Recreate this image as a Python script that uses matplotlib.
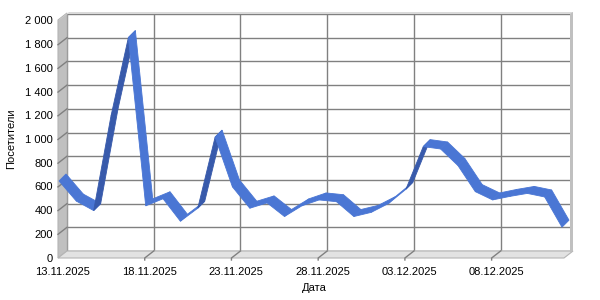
import matplotlib
matplotlib.use('Agg')
import matplotlib.pyplot as plt
import numpy as np
import pandas as pd
from matplotlib.patches import Polygon
from matplotlib.lines import Line2D

plt.rcParams['font.family'] = ['Liberation Sans', 'DejaVu Sans']
plt.rcParams['font.size'] = 8

# ---------------- data ----------------
start_date = '2025-11-13'
visitors = [650, 480, 400, 1200, 1860, 440, 500, 310, 420, 1020,
            600, 420, 465, 350, 440, 490, 475, 350, 385, 460,
            580, 940, 920, 780, 560, 490, 520, 545, 515, 260]
dates = pd.date_range(start_date, periods=len(visitors), freq='D')
tick_step = 5
tick_labels = [d.strftime('%d.%m.%Y') for d in dates[::tick_step]]
y_ticks = list(range(0, 2001, 200))
y_tick_labels = [f'{v:,}'.replace(',', ' ') for v in y_ticks]
x_title = 'Дата'
y_title = 'Посетители'

# ---------------- layout (pixels) ----------------
W, H = 600, 300
fig = plt.figure(figsize=(W / 100, H / 100), dpi=100)

BL, BR, BT, BB = 67, 570, 14, 251      # back wall box (top-origin px)
DX, DY = -9, 7                         # front offset from back (px, y down)


def frac(l, t, r, b):
    return [l / W, (H - b) / H, (r - l) / W, (b - t) / H]


def px2fig(x, y):
    return (x / W, (H - y) / H)


x = np.arange(len(visitors))
xt = x[::tick_step]

# back wall axes with gridlines
ax = fig.add_axes(frac(BL, BT, BR, BB))
ax.set_xlim(x[0], x[-1])
ax.set_ylim(0, 2000)
ax.set_facecolor('white')
ax.set_xticks(xt)
ax.set_yticks(y_ticks)
ax.tick_params(length=0, labelbottom=False, labelleft=False)
ax.grid(True, color='#808080', lw=1)
for s in ax.spines.values():
    s.set_visible(False)

# walls
grey = '#c0c0c0'
wall = Polygon([px2fig(BL, BB), px2fig(BL, BT - 1), px2fig(BL + DX, BT + DY - 1),
                px2fig(BL + DX, BB + DY)], closed=True, transform=fig.transFigure,
               facecolor=grey, edgecolor='#b4b4b4', lw=0.8, zorder=0.5)
fig.add_artist(wall)
floor = Polygon([px2fig(BL, BB), px2fig(BR + 3, BB), px2fig(BR + 3 + DX, BB + DY),
                 px2fig(BL + DX, BB + DY)], closed=True, transform=fig.transFigure,
                facecolor='#e2e2e2', edgecolor='#b4b4b4', lw=0.8, zorder=0.5)
fig.add_artist(floor)
# back wall thickness (top and right)
top = Polygon([px2fig(BL + DX + 2, BT + DY - 2), px2fig(BL + 2, BT - 2), px2fig(BR + 3, BT - 2),
               px2fig(BR + 3, BT), px2fig(BL, BT), px2fig(BL + DX, BT + DY)], closed=True,
              transform=fig.transFigure, facecolor='#dadada', edgecolor='none', zorder=0.6)
fig.add_artist(top)
right = Polygon([px2fig(BR, BT), px2fig(BR + 3, BT - 2), px2fig(BR + 3, BB),
                 px2fig(BR, BB + 2)], closed=True, transform=fig.transFigure,
                facecolor=grey, edgecolor='none', zorder=0.6)
fig.add_artist(right)

# gridlines on left wall and floor
trans = ax.transData
for v in y_ticks[1:-1]:
    bx, by = trans.transform((x[0], v))
    fig.add_artist(Line2D([bx / W, (bx + DX) / W], [by / H, (by - DY) / H],
                          transform=fig.transFigure, color='#808080', lw=1, zorder=0.7))
for d in xt[1:]:
    bx, by = trans.transform((d, 0))
    fig.add_artist(Line2D([bx / W, (bx + DX) / W, (bx + DX) / W],
                          [by / H, (by - DY) / H, (by - DY - 2) / H],
                          transform=fig.transFigure, color='#808080', lw=1, zorder=0.7))

# ---------------- ribbon ----------------
pts = trans.transform(np.column_stack([x, visitors]))
center = pts + np.array([-4.5, -3.5])
front = center + np.array([-3.5, -3.5])
back = center + np.array([3.5, 3.5])
light, dark = '#4a76d4', '#385aab'
for i in range(len(visitors) - 1):
    sx, sy = center[i + 1] - center[i]
    col = light if sx > sy else dark
    poly = np.array([front[i], front[i + 1], back[i + 1], back[i]])
    fig.add_artist(Polygon(poly / np.array([W, H]), closed=True,
                           transform=fig.transFigure, facecolor=col,
                           edgecolor=col, lw=0.6, zorder=3))

# ---------------- label axes (front / mid) ----------------
lab = fig.add_axes(frac(BL - 4.5, BT + 6.5, BR - 4.5, BB + 6.5))
lab.patch.set_visible(False)
lab.set_xlim(x[0], x[-1])
lab.set_ylim(0, 2000)
lab.set_xticks(xt, tick_labels)
lab.set_yticks(y_ticks, y_tick_labels)
lab.tick_params(length=0)
lab.tick_params(axis='y', pad=7)
lab.tick_params(axis='x', pad=7)
for s in lab.spines.values():
    s.set_visible(False)
lab.set_xlabel(x_title, labelpad=4)
lab.set_ylabel(y_title, labelpad=6)

fig.savefig('out.png', dpi=100, facecolor='white')
